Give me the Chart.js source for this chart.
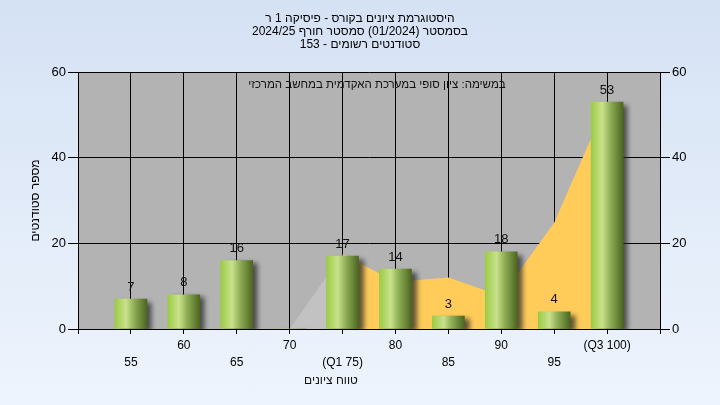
<!DOCTYPE html>
<html>
<head>
<meta charset="utf-8">
<script src="https://cdn.jsdelivr.net/npm/chart.js@4.4.1/dist/chart.umd.min.js"></script>
<style>
  html, body { margin: 0; padding: 0; }
  body { width: 720px; height: 405px; background: linear-gradient(#d5e2f4, #eef4fd); }
  #wrap { position: relative; width: 720px; height: 405px; }
</style>
</head>
<body>
<div id="wrap"><canvas id="hist" width="720" height="405"></canvas></div>
<script>
// grade buckets and student counts
const grades = [55, 60, 65, 70, 75, 80, 85, 90, 95, 100];
const counts = [7, 8, 16, 0, 17, 14, 3, 18, 4, 53];

// background area: below Q1 (gray) and Q1..Q3 (orange)
const lowX = [70, 75];
const lowY = [0, 17.5];
const midX = [75, 80, 85, 90, 95, 100];
const midY = [17.5, 11, 12, 7.7, 24.8, 53];

const tickValues = [50, 55, 60, 65, 70, 75, 80, 85, 90, 95, 100, 105];
const tickLabels = ['', '55', '60', '65', '70', '(Q1 75)', '80', '85', '90', '95', '(Q3 100)', ''];

const titleLines = [
  'היסטוגרמת ציונים בקורס - פיסיקה 1 ר',
  'בסמסטר (01/2024) סמסטר חורף 2024/25',
  'סטודנטים רשומים - 153'
];
const noteText = 'במשימה: ציון סופי במערכת האקדמית במחשב המרכזי';
const xTitle = 'טווח ציונים';
const yTitle = 'מספר סטודנטים';

const FONT = 'Liberation Sans';

function barFill(c) {
  const chart = c.chart;
  if (!chart.chartArea || !c.raw) return '#9ccb45';
  const cx = chart.scales.x.getPixelForValue(c.raw.x);
  const g = chart.ctx.createLinearGradient(cx - 16, 0, cx + 16, 0);
  g.addColorStop(0, '#9ccb45');
  g.addColorStop(0.35, '#c8e28c');
  g.addColorStop(0.6, '#8fae55');
  g.addColorStop(1, '#4c6620');
  return g;
}

const plotBg = {
  id: 'plotBg',
  beforeDraw(chart) {
    const a = chart.chartArea, ctx = chart.ctx;
    ctx.save();
    ctx.fillStyle = '#b3b3b3';
    ctx.fillRect(a.left, a.top, a.right - a.left, a.bottom - a.top);
    ctx.restore();
  }
};

const barShadow = {
  id: 'barShadow',
  beforeDatasetDraw(chart, args) {
    if (args.meta.type !== 'bar') return;
    const ctx = chart.ctx;
    ctx.save();
    ctx.shadowColor = 'rgba(40,40,40,0.75)';
    ctx.shadowBlur = 5;
    ctx.shadowOffsetX = 5;
    ctx.shadowOffsetY = 3;
  },
  afterDatasetDraw(chart, args) {
    if (args.meta.type !== 'bar') return;
    chart.ctx.restore();
  }
};

const extraText = {
  id: 'extraText',
  afterDraw(chart) {
    const ctx = chart.ctx, a = chart.chartArea;
    ctx.save();
    ctx.fillStyle = '#111';
    ctx.textAlign = 'center';
    ctx.textBaseline = 'middle';
    // value labels over bars
    const meta = chart.getDatasetMeta(0);
    ctx.font = '13px "' + FONT + '"';
    meta.data.forEach((el, i) => {
      if (!counts[i]) return;
      ctx.fillText(String(counts[i]), el.x, el.y - 12);
    });
    ctx.font = '11.5px "' + FONT + '"';
    ctx.fillText(noteText, (a.left + a.right) / 2 + 8, a.top + 13);
    ctx.font = '12px "' + FONT + '"';
    ctx.fillText(xTitle, 331, 381);
    ctx.restore();
  }
};

new Chart(document.getElementById('hist'), {
  data: {
    datasets: [{
      type: 'bar',
      data: grades.map((g, i) => ({ x: g, y: counts[i] })),
      backgroundColor: barFill,
      barThickness: 32,
      order: 0
    }, {
      type: 'line',
      data: lowX.map((g, i) => ({ x: g, y: lowY[i] })),
      backgroundColor: '#c2c2c2',
      borderWidth: 0,
      pointRadius: 0,
      fill: 'origin',
      tension: 0,
      order: 2
    }, {
      type: 'line',
      data: midX.map((g, i) => ({ x: g, y: midY[i] })),
      backgroundColor: '#ffcc5a',
      borderWidth: 0,
      pointRadius: 0,
      fill: 'origin',
      tension: 0,
      order: 1
    }]
  },
  options: {
    responsive: false,
    animation: false,
    devicePixelRatio: 1,
    layout: { padding: 0 },
    plugins: {
      legend: { display: false },
      tooltip: { enabled: false },
      title: {
        display: true,
        text: titleLines,
        color: '#000',
        font: { family: FONT, size: 12, weight: 'normal', lineHeight: 1.1 },
        padding: { top: 12, bottom: 20.4 }
      }
    },
    scales: {
      x: {
        type: 'linear',
        min: 50,
        max: 105,
        offset: false,
        afterBuildTicks(s) { s.ticks = tickValues.map(v => ({ value: v })); },
        afterFit(s) { s.height = 76; },
        ticks: {
          color: '#000',
          font: { family: FONT, size: 12, lineHeight: 1.45 },
          padding: 3,
          maxRotation: 0,
          autoSkip: false,
          callback(v) {
            const t = tickLabels[tickValues.indexOf(v)];
            return (v / 5) % 2 === 1 ? ['', t] : [t];
          }
        },
        grid: { color: '#000', lineWidth: 1, tickLength: 5, offset: false },
        border: { color: '#000', width: 1 }
      },
      y: {
        position: 'left',
        min: 0,
        max: 60,
        afterFit(s) { s.width = 78; },
        ticks: { stepSize: 20, color: '#000', font: { family: FONT, size: 13 }, padding: 2 },
        grid: { color: '#000', lineWidth: 1, tickLength: 10 },
        border: { color: '#000', width: 1 },
        title: {
          display: true,
          text: yTitle,
          color: '#000',
          font: { family: FONT, size: 12 },
          padding: { top: 28, bottom: 0 }
        }
      },
      y2: {
        position: 'right',
        min: 0,
        max: 60,
        afterFit(s) { s.width = 60; },
        ticks: { stepSize: 20, color: '#000', font: { family: FONT, size: 13 }, padding: 2 },
        grid: { drawOnChartArea: false, color: '#000', tickLength: 10 },
        border: { color: '#000', width: 1 }
      }
    }
  },
  plugins: [plotBg, barShadow, extraText]
});
</script>
</body>
</html>
